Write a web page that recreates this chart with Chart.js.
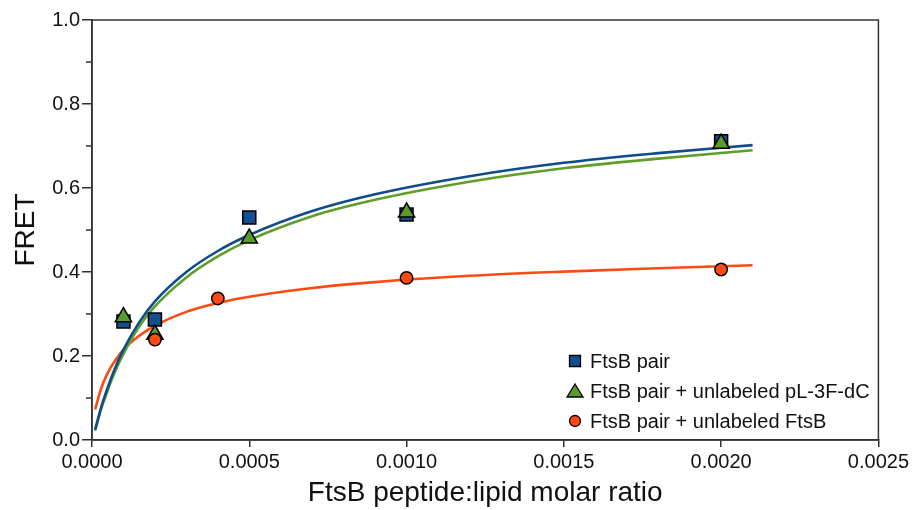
<!DOCTYPE html>
<html>
<head>
<meta charset="utf-8">
<script src="https://cdn.jsdelivr.net/npm/chart.js@4.4.1/dist/chart.umd.min.js"></script>
<style>
  html, body { margin: 0; padding: 0; background: #fff; }
  #wrap { width: 912px; height: 510px; }
</style>
</head>
<body>
<div id="wrap"><canvas id="fretChart" width="912" height="510"></canvas></div>
<script>
// measured points (peptide:lipid ratio vs FRET)
const pairX = [0.0001, 0.0002, 0.0005, 0.0010, 0.0020];
const pairFret = [0.282, 0.287, 0.530, 0.537, 0.711];

const pl3fX = [0.0001, 0.0002, 0.0005, 0.0010, 0.0020];
const pl3fFret = [0.293, 0.251, 0.480, 0.542, 0.706];

const unlabX = [0.0002, 0.0004, 0.0010, 0.0020];
const unlabFret = [0.239, 0.337, 0.386, 0.406];

// fitted curves
const fitX = [0.00001, 0.00003, 0.00005, 0.00007, 0.0001, 0.00015, 0.0002, 0.0003, 0.0004,
              0.0005, 0.0007, 0.0009, 0.0012, 0.0015, 0.0018, 0.0021];
const fitPair = [0.025, 0.080, 0.125, 0.165, 0.215, 0.280, 0.330, 0.400, 0.450,
                 0.488, 0.545, 0.585, 0.628, 0.660, 0.683, 0.702];
const fitPl3f = [0.022, 0.076, 0.118, 0.157, 0.205, 0.270, 0.318, 0.387, 0.437,
                 0.476, 0.533, 0.572, 0.615, 0.647, 0.670, 0.690];
const fitUnlab = [0.073, 0.125, 0.160, 0.185, 0.215, 0.248, 0.272, 0.305, 0.326,
                  0.341, 0.362, 0.376, 0.391, 0.401, 0.409, 0.416];

const legendLabels = ['FtsB pair', 'FtsB pair + unlabeled pL-3F-dC', 'FtsB pair + unlabeled FtsB'];

const BLUE = '#0f4c8a', BLUE_FILL = '#14508f';
const GREEN = '#5f9e2a', GREEN_FILL = '#5a9a2a';
const ORANGE = '#ff4a14';
const AXIS = '#333333';
const FONT = "'Liberation Sans', Arial, sans-serif";

const xy = (xs, ys) => xs.map((x, i) => ({ x: x, y: ys[i] }));

// full box round the plot plus minor ticks on y
const frameAndMinor = {
    id: 'frameAndMinor',
    afterDatasetsDraw(chart) {
        const { ctx, chartArea: a, scales: { y } } = chart;
        ctx.save();
        ctx.strokeStyle = AXIS;
        ctx.lineWidth = 1.5;
        ctx.strokeRect(a.left, a.top, a.right - a.left, a.bottom - a.top);
        for (let i = 0; i < y.ticks.length - 1; i++) {
            const py = (y.getPixelForValue(y.ticks[i].value) + y.getPixelForValue(y.ticks[i + 1].value)) / 2;
            ctx.beginPath();
            ctx.moveTo(a.left - 6, py);
            ctx.lineTo(a.left, py);
            ctx.stroke();
        }
        ctx.restore();
    }
};

// legend inside the plot, bottom right
const insideLegend = {
    id: 'insideLegend',
    afterDraw(chart) {
        const { ctx } = chart;
        const mx = 575, tx = 590, rows = [361, 391, 421];
        const styles = [
            { shape: 'rect', fill: BLUE_FILL },
            { shape: 'tri', fill: GREEN_FILL },
            { shape: 'circ', fill: ORANGE }
        ];
        ctx.save();
        ctx.font = '20px ' + FONT;
        ctx.textBaseline = 'middle';
        legendLabels.forEach((label, i) => {
            const y = rows[i], s = styles[i];
            ctx.beginPath();
            if (s.shape === 'rect') {
                ctx.rect(mx - 5.5, y - 5.5, 11, 11);
            } else if (s.shape === 'tri') {
                ctx.moveTo(mx, y - 7);
                ctx.lineTo(mx + 8, y + 6);
                ctx.lineTo(mx - 8, y + 6);
                ctx.closePath();
            } else {
                ctx.arc(mx, y, 5.5, 0, Math.PI * 2);
            }
            ctx.fillStyle = s.fill;
            ctx.fill();
            ctx.lineWidth = 1.3;
            ctx.strokeStyle = '#000';
            ctx.stroke();
            ctx.fillStyle = '#111';
            ctx.fillText(label, tx, y + 1);
        });
        ctx.restore();
    }
};

const curve = (ys, color) => ({
    data: xy(fitX, ys),
    showLine: true,
    borderColor: color,
    borderWidth: 2.6,
    pointRadius: 0,
    cubicInterpolationMode: 'monotone',
    order: 5
});

const marks = (xs, ys, style, fill, radius, order) => ({
    data: xy(xs, ys),
    pointStyle: style,
    pointRadius: radius,
    pointBackgroundColor: fill,
    pointBorderColor: '#000',
    pointBorderWidth: 1.5,
    showLine: false,
    order: order
});

new Chart(document.getElementById('fretChart').getContext('2d'), {
    type: 'scatter',
    data: {
        datasets: [
            curve(fitPair, BLUE),
            curve(fitPl3f, GREEN),
            curve(fitUnlab, ORANGE),
            marks(pairX, pairFret, 'rect', BLUE_FILL, 9.2, 3),
            marks(pl3fX, pl3fFret, 'triangle', GREEN_FILL, 9.4, 2),
            marks(unlabX, unlabFret, 'circle', ORANGE, 6.2, 1)
        ]
    },
    options: {
        responsive: false,
        animation: false,
        layout: { padding: { top: 20, right: 32, left: 0, bottom: 0 } },
        plugins: { legend: { display: false }, tooltip: { enabled: false } },
        scales: {
            x: {
                type: 'linear',
                min: 0, max: 0.0025,
                afterFit: (s) => { s.height = 70; },
                border: { color: AXIS, width: 1.5 },
                grid: { drawOnChartArea: false, drawTicks: true, tickLength: 7, color: AXIS, lineWidth: 1.5 },
                ticks: {
                    stepSize: 0.0005,
                    padding: 3,
                    color: '#111',
                    font: { family: FONT, size: 20 },
                    maxRotation: 0,
                    callback: (v) => v.toFixed(4)
                },
                title: {
                    display: true,
                    text: 'FtsB peptide:lipid molar ratio',
                    color: '#111',
                    font: { family: FONT, size: 28 },
                    padding: { top: 1, bottom: 0 }
                }
            },
            y: {
                min: 0, max: 1,
                afterFit: (s) => { s.width = 92; },
                border: { color: AXIS, width: 1.5 },
                grid: { drawOnChartArea: false, drawTicks: true, tickLength: 10, color: AXIS, lineWidth: 1.5 },
                ticks: {
                    stepSize: 0.2,
                    padding: 2,
                    color: '#111',
                    font: { family: FONT, size: 20 },
                    callback: (v) => v.toFixed(1)
                },
                title: {
                    display: true,
                    text: 'FRET',
                    color: '#111',
                    font: { family: FONT, size: 28 },
                    padding: { top: 9, bottom: 0 }
                }
            }
        }
    },
    plugins: [frameAndMinor, insideLegend]
});
</script>
</body>
</html>
